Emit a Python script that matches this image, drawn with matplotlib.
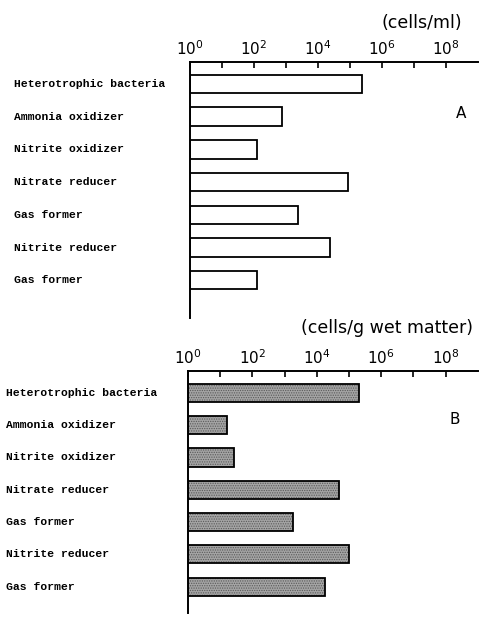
import numpy as np
import matplotlib.pyplot as plt
from matplotlib.ticker import FixedFormatter, FixedLocator
from matplotlib.transforms import blended_transform_factory

groups = ['Heterotrophic bacteria', 'Ammonia oxidizer', 'Nitrite oxidizer',
          'Nitrate reducer', 'Gas former', 'Nitrite reducer', 'Gas former']
water_counts = [2.4e5, 7.5e2, 1.2e2, 9e4, 2.4e3, 2.4e4, 1.2e2]      # cells/ml
sediment_counts = [2e5, 15, 25, 5e4, 1.8e3, 1e5, 1.8e4]            # cells/g wet matter
tick_labels = ['$10^0$', '$10^2$', '$10^4$', '$10^6$', '$10^8$']

plt.rcParams['hatch.linewidth'] = 0.6
plt.rcParams['hatch.color'] = '#5a5a5a'

fig = plt.figure(figsize=(4.79, 6.23), dpi=100)

def panel(rect, counts, unit, unit_xy, letter, letter_x, label_x, shaded, ylim):
    ax = fig.add_axes(rect)
    y = np.arange(len(counts))
    if shaded:
        ax.barh(y, counts, height=0.56, left=1, color='#a4a4a4',
                hatch='.......', edgecolor='#5a5a5a', linewidth=0)
    ax.barh(y, counts, height=0.56, left=1, fill=False,
            edgecolor='black', linewidth=1.3)
    ax.set_xscale('log')
    ax.set_xlim(1, 1e9)
    ax.set_ylim(*ylim)
    ax.xaxis.tick_top()
    ax.xaxis.set_major_locator(FixedLocator([1, 1e2, 1e4, 1e6, 1e8]))
    ax.xaxis.set_major_formatter(FixedFormatter(tick_labels))
    ax.xaxis.set_minor_locator(FixedLocator([10**k for k in range(1, 9, 2)]))
    ax.tick_params(axis='x', which='both', direction='in', length=4,
                   width=1.2, pad=3, labelsize=11)
    ax.tick_params(axis='x', which='minor', labeltop=False)
    ax.set_yticks([])
    for s in ['right', 'bottom']:
        ax.spines[s].set_visible(False)
    for s in ['top', 'left']:
        ax.spines[s].set_linewidth(1.4)
    # row names, set at a fixed figure position on the left
    tr = blended_transform_factory(fig.transFigure, ax.transData)
    for yi, name in zip(y, groups):
        ax.text(label_x, yi, name, transform=tr, ha='left', va='center',
                family='Liberation Mono', fontweight='bold', fontsize=8.2)
    fig.text(unit_xy[0], unit_xy[1], unit, ha='right', va='center',
             fontsize=12.5)
    ax.text(letter_x, 0.8, letter, transform=ax.transAxes, ha='center',
            va='center', fontsize=11)
    return ax

panel([0.3967, 0.4896, 0.601, 0.411], water_counts, '(cells/ml)',
      (0.965, 0.963), 'A', 0.94, 0.029, False, (7.15, -0.67))
panel([0.3925, 0.016, 0.605, 0.388], sediment_counts,
      '(cells/g wet matter)', (0.988, 0.4735), 'B', 0.92, 0.013, True,
      (6.82, -0.67))

fig.savefig('out.png', dpi=100)
